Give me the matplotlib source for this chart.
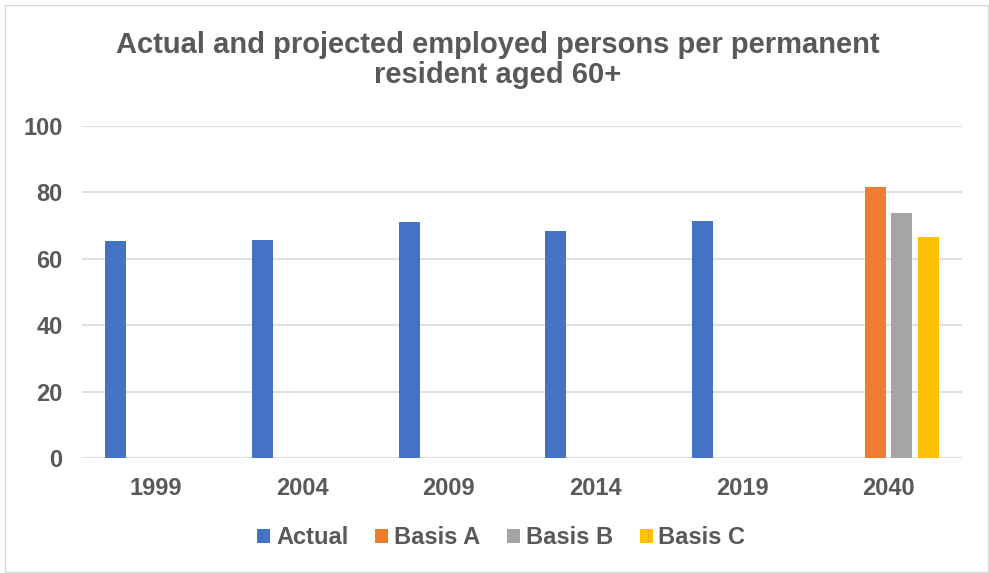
import numpy as np
import matplotlib.pyplot as plt
from matplotlib.patches import Rectangle

plt.rcParams['font.family'] = ['Liberation Sans', 'DejaVu Sans']

# data
years = ['1999', '2004', '2009', '2014', '2019', '2040']
actual = [65.5, 65.8, 71.1, 68.4, 71.5, np.nan]
basis_a = [np.nan, np.nan, np.nan, np.nan, np.nan, 81.6]
basis_b = [np.nan, np.nan, np.nan, np.nan, np.nan, 73.8]
basis_c = [np.nan, np.nan, np.nan, np.nan, np.nan, 66.6]

series = [('Actual', actual, '#4472C4'),
          ('Basis A', basis_a, '#ED7D31'),
          ('Basis B', basis_b, '#A5A5A5'),
          ('Basis C', basis_c, '#FFC000')]

txt = '#595959'
W, H = 989, 573

fig = plt.figure(figsize=(9.89, 5.73), dpi=100)
ax = fig.add_axes([82/W, 1 - 458/H, 880/W, 332/H])

x = np.arange(len(years))
step = 0.18
width = 0.143
for j, (name, vals, col) in enumerate(series):
    ax.bar(x + (j - 1.5) * step, vals, width=width, color=col, label=name, zorder=3)

ax.set_xlim(-0.5, len(years) - 0.5)
ax.set_ylim(0, 100)
ax.set_yticks(range(0, 101, 20))
ax.set_xticks(x)
ax.set_xticklabels(years)
ax.grid(axis='y', color='#D9D9D9', linewidth=1.2, zorder=0)
for s in ['top', 'right', 'left', 'bottom']:
    ax.spines[s].set_visible(False)
ax.tick_params(length=0, labelsize=17, labelcolor=txt, pad=14)
for lab in ax.get_xticklabels() + ax.get_yticklabels():
    lab.set_fontweight('bold')

# title, two lines placed on their baselines
fig.text(0.503, 1 - 53/H, 'Actual and projected employed persons per permanent',
         ha='center', va='baseline', fontsize=21, fontweight='bold', color=txt)
fig.text(0.503, 1 - 83/H, 'resident aged 60+',
         ha='center', va='baseline', fontsize=21, fontweight='bold', color=txt)

leg = fig.legend(loc='center', bbox_to_anchor=(0.507, 1 - 538/H), ncol=4,
                 frameon=False, prop={'size': 17, 'weight': 'bold'},
                 handlelength=0.55, handleheight=0.55, handletextpad=0.25,
                 columnspacing=1.13)
for t in leg.get_texts():
    t.set_color(txt)

fig.patches.append(Rectangle((5/W, 0.001), 983/W, 1 - 5/H - 0.001, transform=fig.transFigure,
                             fill=False, edgecolor='#D9D9D9', linewidth=1))

fig.savefig('out.png', dpi=100)
